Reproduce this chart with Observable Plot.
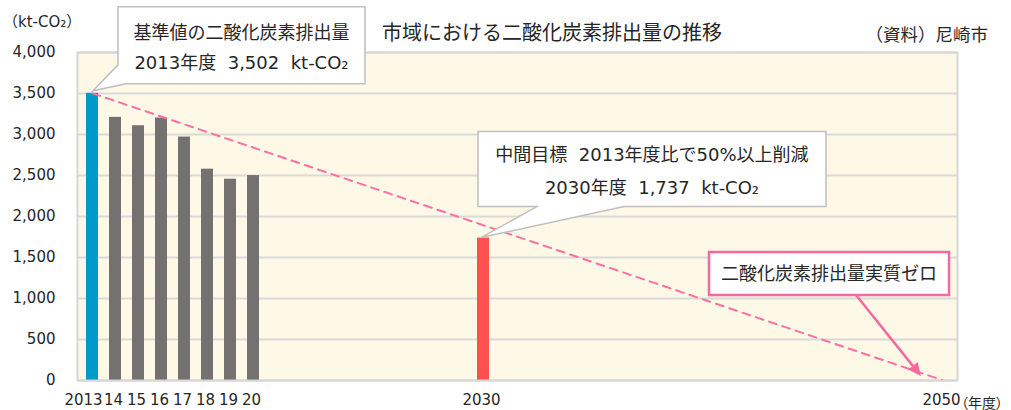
<!DOCTYPE html>
<html><head><meta charset="utf-8">
<script src="https://cdn.jsdelivr.net/npm/d3@7"></script>
<script src="https://cdn.jsdelivr.net/npm/@observablehq/plot@0.6"></script>
<style>
html,body{margin:0;padding:0;background:#fff;}
#chart svg{display:block;}
</style></head><body><div id="chart"></div>
<script>
// ---- data ----
const years = [2013, 2014, 2015, 2016, 2017, 2018, 2019, 2020, 2030];
const emissions = [3502, 3209, 3107, 3201, 2969, 2577, 2455, 2499, 1737];
const barKinds = ["基準値", "実績", "実績", "実績", "実績", "実績", "実績", "実績", "目標"];
const kindNames = ["基準値", "実績", "目標"];
const kindColors = ["#0099cc", "#767171", "#ff5050"];
const axisYears = d3.range(2013, 2051);
const xTickYears = [2013, 2014, 2015, 2016, 2017, 2018, 2019, 2020, 2030, 2050];
const xTickLabels = ["2013", "14", "15", "16", "17", "18", "19", "20", "2030", "2050"];
const yTicks = [0, 500, 1000, 1500, 2000, 2500, 3000, 3500, 4000];
const pathYears = [2013, 2050];
const pathValues = [3502, 0];

const titleText = "市域における二酸化炭素排出量の推移";
const sourceText = "（資料）尼崎市";
const unitText = "（kt-CO₂）";
const xUnitText = "（年度）";
const callout1 = ["基準値の二酸化炭素排出量", "2013年度\u00a0\u00a03,502\u00a0\u00a0kt-CO₂"];
const callout2 = ["中間目標\u00a0\u00a02013年度比で50%以上削減", "2030年度\u00a0\u00a01,737\u00a0\u00a0kt-CO₂"];
const callout3 = "二酸化炭素排出量実質ゼロ";

const bars = years.map((y, i) => ({year: y, value: emissions[i], kind: barKinds[i]}));
const path = pathYears.map((y, i) => ({year: y, value: pathValues[i]}));
const tickLabel = d => xTickLabels[xTickYears.indexOf(d)];

const FONT = '"DejaVu Sans", "Noto Sans CJK JP", sans-serif';
const PINK = "#f7699e";

const plot = Plot.plot({
  width: 1011, height: 410,
  marginLeft: 77, marginRight: 54, marginTop: 52, marginBottom: 30,
  style: {fontFamily: FONT, fontSize: "15px", color: "#262626", background: "#fff"},
  x: {type: "band", domain: axisYears, paddingInner: 0.48, paddingOuter: 0.24},
  y: {domain: [0, 4000]},
  color: {domain: kindNames, range: kindColors},
  marks: [
    Plot.frame({fill: "#fdf9e6", stroke: null}),
    Plot.gridY(yTicks, {stroke: "#d9d9d9", strokeOpacity: 1, strokeWidth: 2}),
    Plot.barY(bars, {x: "year", y: "value", fill: "kind"}),
    Plot.line(path, {x: "year", y: "value", stroke: "#ff6fa3", strokeWidth: 2, strokeDasharray: "8,6"}),
    Plot.frame({stroke: "#d6d6d6", strokeWidth: 2}),
    Plot.axisY({ticks: yTicks, tickFormat: d3.format(","), tickSize: 0, tickPadding: 22, fontSize: 15, label: null}),
    Plot.axisX({ticks: xTickYears.slice(0, 1), tickFormat: tickLabel, tickSize: 0, tickPadding: 14, dx: -9, fontSize: 15, label: null}),
    Plot.axisX({ticks: xTickYears.slice(1), tickFormat: tickLabel, tickSize: 0, tickPadding: 14, dx: -2, fontSize: 15, label: null})
  ]
});
document.getElementById("chart").appendChild(plot);

const svg = d3.select(plot);
const xs = plot.scale("x"), ys = plot.scale("y");
const cx = v => xs.apply(v) + xs.bandwidth / 2;
const cy = v => ys.apply(v);

const g = svg.append("g").attr("font-family", FONT).attr("fill", "#262626");

// titles
g.append("text").attr("x", 552).attr("y", 33).attr("text-anchor", "middle")
  .attr("dominant-baseline", "central").attr("font-size", 20).text(titleText);
g.append("text").attr("x", 988).attr("y", 35).attr("text-anchor", "end")
  .attr("dominant-baseline", "central").attr("font-size", 17.5).text(sourceText);
g.append("text").attr("x", 3).attr("y", 22).attr("text-anchor", "start")
  .attr("dominant-baseline", "central").attr("font-size", 15).text(unitText);
g.append("text").attr("x", cx(2050) + 18).attr("y", 403).attr("text-anchor", "start")
  .attr("dominant-baseline", "central").attr("font-size", 14)
  .style("font-feature-settings", '"palt"').text(xUnitText);

// callout 1
{
  const tx = cx(2013) + 1, ty = cy(3502) - 2;
  const L = tx + 25, R = tx + 272, T = ty - 84, B = ty - 7;
  const p = [[L, T], [R, T], [R, B], [tx + 33, B], [tx, ty], [L, ty - 26]];
  g.append("path").attr("d", "M" + p.join("L") + "Z").attr("fill", "#fff")
    .attr("stroke", "#bfbfbf").attr("stroke-width", 1.5);
  const mx = (L + R) / 2;
  callout1.forEach((t, i) => g.append("text").attr("x", mx).attr("y", T + 26 + i * 30)
    .attr("text-anchor", "middle").attr("dominant-baseline", "central").attr("font-size", 18).text(t));
}
// callout 2
{
  const tx = cx(2030) - 2, ty = cy(1737);
  const L = tx - 3, R = tx + 345, T = ty - 106, B = ty - 31;
  const p = [[L, T], [R, T], [R, B], [tx + 143, B], [tx, ty], [tx + 56, B], [L, B]];
  g.append("path").attr("d", "M" + p.join("L") + "Z").attr("fill", "#fff")
    .attr("stroke", "#bfbfbf").attr("stroke-width", 1.5);
  const mx = (L + R) / 2;
  callout2.forEach((t, i) => g.append("text").attr("x", mx).attr("y", T + 23 + i * 33)
    .attr("text-anchor", "middle").attr("dominant-baseline", "central").attr("font-size", 18).text(t));
}
// callout 3 + arrow
{
  const bx = cx(2050), by = cy(0);
  const L = bx - 234, R = bx + 6, T = by - 128, B = by - 85;
  const x0 = bx - 87, y0 = B, x1 = bx - 22, y1 = by - 4;
  const ang = Math.atan2(y1 - y0, x1 - x0), hl = 13, hw = 6;
  const bxp = x1 - hl * Math.cos(ang), byp = y1 - hl * Math.sin(ang);
  g.append("line").attr("x1", x0).attr("y1", y0).attr("x2", bxp).attr("y2", byp)
    .attr("stroke", PINK).attr("stroke-width", 2.5);
  g.append("path").attr("d", `M${x1},${y1}L${bxp + hw * Math.sin(ang)},${byp - hw * Math.cos(ang)}L${bxp - hw * Math.sin(ang)},${byp + hw * Math.cos(ang)}Z`)
    .attr("fill", PINK);
  g.append("rect").attr("x", L).attr("y", T).attr("width", R - L).attr("height", B - T)
    .attr("fill", "#fff").attr("stroke", PINK).attr("stroke-width", 2.5);
  g.append("text").attr("x", (L + R) / 2).attr("y", (T + B) / 2).attr("text-anchor", "middle")
    .attr("dominant-baseline", "central").attr("font-size", 18).text(callout3);
}
</script></body></html>
